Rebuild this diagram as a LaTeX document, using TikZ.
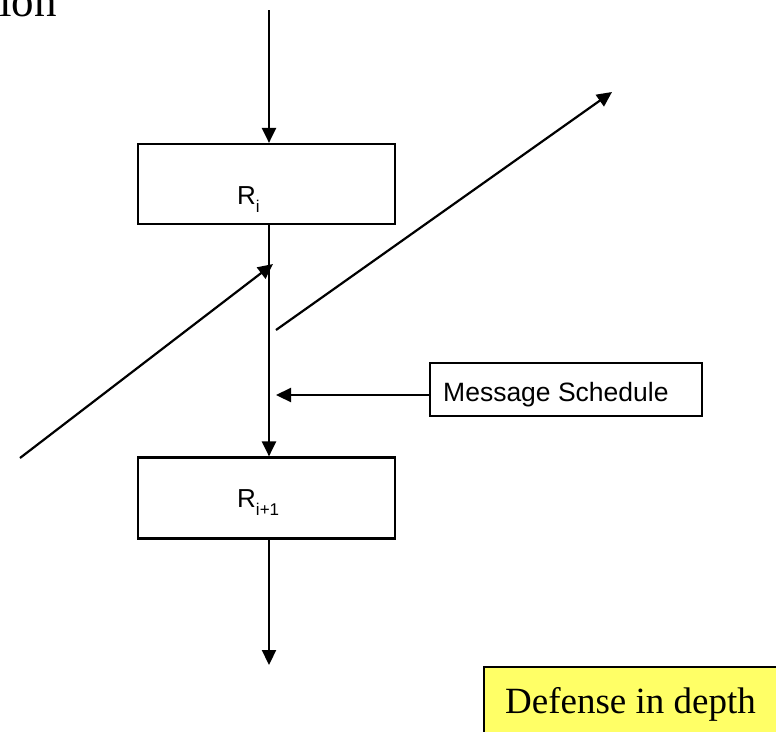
\documentclass[tikz,border=0pt]{standalone}
\usepackage{fontspec}
\setmainfont{Liberation Serif}
\newfontfamily\arial{Liberation Sans}
\usetikzlibrary{arrows.meta}
\definecolor{noteyellow}{HTML}{FFFF66}
\tikzset{
  conn/.style={line width=2.2pt, -{Triangle[length=15pt,width=14pt]}},
  roundbox/.style={draw, line width=2.2pt, rectangle, inner sep=0pt, minimum width=257pt},
  lbl/.style={inner sep=0pt, anchor=base west, font=\arial\fontsize{26}{30}\selectfont},
}
\newcommand{\subtxt}[1]{\raisebox{-8pt}{\fontsize{17}{19}\selectfont #1}}
\begin{document}
\begin{tikzpicture}[x=1pt,y=-1pt]
\useasboundingbox (0,0) rectangle (776,731);
% heading fragment running off the top edge
\node[inner sep=0pt, anchor=base west, font=\fontsize{45}{50}\selectfont] (head) at (-1,16) {ion};

% round boxes
\node[roundbox, minimum height=80pt] (ri) at (266.5,184) {};
\node[roundbox, minimum height=81pt] (rii) at (266.5,498) {};
\node[lbl] (rilab) at (237,204) {R\subtxt{i}};
\node[lbl] (riilab) at (237,507) {R\subtxt{i+1}};

% message schedule box
\node[draw, line width=2.2pt, inner sep=0pt, minimum width=272pt, minimum height=53pt] (ms) at (566,389.5) {};
\node[inner sep=0pt, anchor=base west, font=\arial\fontsize{26.5}{30}\selectfont] (mslab) at (443,401) {Message Schedule};

% vertical flow
\coordinate (in) at (269,10);
\coordinate (out) at (269,665);
\coordinate (msin) at (276,395);
\draw[conn] (in) -- (ri.north -| in);
\draw[conn] (ri.south -| in) -- (rii.north -| in);
\draw[conn] (rii.south -| in) -- (out);
\draw[conn] (ms.west |- msin) -- (msin);

% diagonal path crossing the rounds
\coordinate (d1) at (20,458);
\coordinate (d2) at (273,264);
\coordinate (d3) at (276,330);
\coordinate (d4) at (612,92);
\draw[conn] (d1) -- (d2);
\draw[conn] (d3) -- (d4);

% note
\node[draw, line width=2.2pt, fill=noteyellow, inner sep=0pt, minimum width=320pt, minimum height=90pt, anchor=north west] (note) at (483,666) {};
\node[inner sep=0pt, anchor=base west, font=\fontsize{37}{40}\selectfont] (notelab) at (505,713) {Defense in depth};
\end{tikzpicture}
\end{document}
